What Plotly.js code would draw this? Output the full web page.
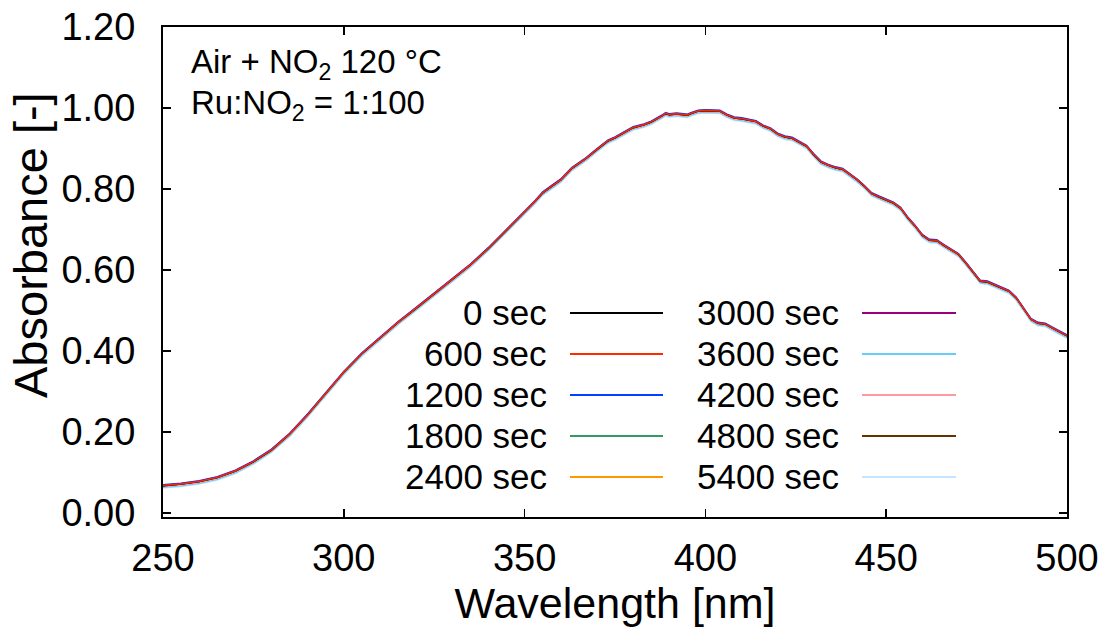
<!DOCTYPE html>
<html>
<head>
<meta charset="utf-8">
<script src="https://cdn.plot.ly/plotly-3.0.1.min.js"></script>
<style>html,body{margin:0;padding:0;background:#fff;}#chart{width:1113px;height:636px;}</style>
</head>
<body>
<div id="chart"></div>
<script>
// Wavelength [nm]
const wavelength = [250,255,260,265,270,275,280,285,290,295,300,305,310,315,320,325,330,335,340,345,350,353,355,358,360,363,365,367,370,373,375,378,380,383,385,388,389,390,392,394,395,396,398,400,402,404,406,408,410,412,414,416,418,420,422,424,426,428,430,432,434,436,438,440,442,444,446,448,450,452,454,456,458,460,462,464,466,468,470,472,474,476,478,480,482,484,486,488,490,492,494,496,498,500];
// Absorbance of the 0 sec spectrum
const absorbance0 = [0.067,0.071,0.077,0.087,0.103,0.126,0.155,0.194,0.242,0.294,0.347,0.393,0.432,0.470,0.505,0.540,0.575,0.612,0.653,0.697,0.742,0.770,0.790,0.810,0.822,0.850,0.862,0.875,0.897,0.918,0.926,0.940,0.951,0.958,0.965,0.980,0.986,0.983,0.985,0.983,0.982,0.986,0.992,0.993,0.993,0.992,0.982,0.975,0.973,0.969,0.966,0.955,0.948,0.935,0.928,0.925,0.916,0.905,0.884,0.866,0.858,0.852,0.848,0.835,0.822,0.806,0.788,0.780,0.772,0.765,0.752,0.728,0.708,0.685,0.673,0.672,0.660,0.650,0.638,0.617,0.593,0.572,0.570,0.562,0.555,0.547,0.530,0.505,0.478,0.468,0.466,0.456,0.446,0.437];
// Series: time labels and small shifts read relative to the 0 sec spectrum
const timeLabels = ["0 sec","600 sec","1200 sec","1800 sec","2400 sec","3000 sec","3600 sec","4200 sec","4800 sec","5400 sec"];
const shifts = [0.000,0.001,0.003,0.000,0.000,0.0015,-0.004,-0.002,0.000,-0.006];
const colors = ["#000000","#ff2a00","#0040ff","#339966","#ff9900","#990080","#66ccff","#ff99a0","#663300","#c4e4ff"];
const xTicks = [250,300,350,400,450,500];
const yTicks = [0,0.2,0.4,0.6,0.8,1.0,1.2];

const FONT = "Liberation Sans, Arial, sans-serif";
const L = 163, R = 1067, T = 27, B = 517;
const px = v => (v - L) / (R - L);
const py = v => (B - v) / (B - T);

const drawOrder = [9,6,7,2,3,4,0,8,5,1];
const traces = drawOrder.map(i => ({
  type: "scatter", mode: "lines", name: timeLabels[i],
  x: wavelength,
  y: absorbance0.map(a => +(a + shifts[i]).toFixed(4)),
  line: {color: colors[i], width: 1.2},
  showlegend: false, hoverinfo: "skip"
}));

const annotations = [
  {xref:"paper", yref:"paper", x:px(189), y:py(64), xanchor:"left", yanchor:"middle", showarrow:false,
   text:"Air + NO<sub>2</sub> 120 °C", font:{family:FONT, size:33, color:"#000"}},
  {xref:"paper", yref:"paper", x:px(189), y:py(105), xanchor:"left", yanchor:"middle", showarrow:false,
   text:"Ru:NO<sub>2</sub> = 1:100", font:{family:FONT, size:33, color:"#000"}},
  {xref:"paper", yref:"paper", x:px(30), y:py(245), xanchor:"center", yanchor:"middle", showarrow:false,
   textangle:-90, text:"Absorbance [-]", font:{family:FONT, size:47, color:"#000"}}
];
const shapes = [];
const rowY = [313,354,395,436,477];
timeLabels.forEach((lab, i) => {
  const col = i < 5 ? 0 : 1;
  const row = i % 5;
  const textRight = col === 0 ? 549 : 841;
  const lineL = col === 0 ? 570 : 862;
  const lineR = col === 0 ? 663 : 956;
  annotations.push({xref:"paper", yref:"paper", x:px(textRight), y:py(rowY[row]-1), xanchor:"right", yanchor:"middle",
    showarrow:false, text:lab, font:{family:FONT, size:35, color:"#000"}});
  shapes.push({type:"line", xref:"paper", yref:"paper", x0:px(lineL), x1:px(lineR), y0:py(rowY[row]), y1:py(rowY[row]),
    line:{color:colors[i], width:1.8}});
});

const axisCommon = {
  showline:true, linecolor:"#000", linewidth:2, mirror:"ticks",
  ticks:"inside", ticklen:8, tickwidth:1.5, tickcolor:"#000",
  showgrid:false, zeroline:false,
  tickfont:{family:FONT, size:38, color:"#000"}
};

const layout = {
  width:1113, height:636,
  margin:{l:L, r:1113-R, t:T, b:636-B, pad:0},
  paper_bgcolor:"#fff", plot_bgcolor:"#fff",
  showlegend:false,
  xaxis: Object.assign({}, axisCommon, {
    range:[250,500], tickvals:xTicks, ticktext:xTicks.map(String),
    ticklabelstandoff:6,
    title:{text:"Wavelength [nm]", font:{family:FONT, size:43, color:"#000"}, standoff:8}
  }),
  yaxis: Object.assign({}, axisCommon, {
    range:[-0.01,1.2], tickvals:yTicks, ticktext:yTicks.map(v=>v.toFixed(2)),
    ticklabelstandoff:18
  }),
  annotations, shapes
};

Plotly.newPlot("chart", traces, layout, {displayModeBar:false, staticPlot:true});
</script>
</body>
</html>
